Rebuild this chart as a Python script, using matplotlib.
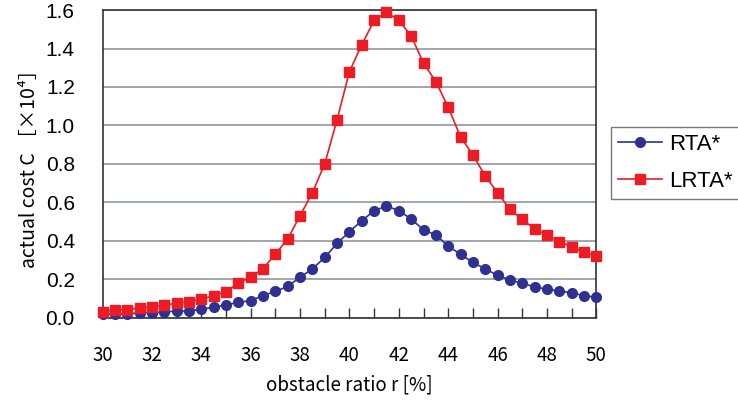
"""Actual cost vs obstacle ratio for RTA* and LRTA*."""

import matplotlib

matplotlib.use("Agg")
import matplotlib.pyplot as plt
import numpy as np
from matplotlib.ticker import FixedLocator, MultipleLocator

# obstacle ratio r [%], one point every 0.5
ratio = np.arange(30.0, 50.01, 0.5)

rta_cost = [
    0.020, 0.018, 0.018, 0.025, 0.025, 0.029, 0.034, 0.034, 0.043, 0.053,
    0.065, 0.079, 0.088, 0.114, 0.136, 0.162, 0.210, 0.253, 0.313, 0.386,
    0.447, 0.504, 0.555, 0.581, 0.556, 0.513, 0.456, 0.430, 0.372, 0.329,
    0.287, 0.253, 0.220, 0.195, 0.178, 0.160, 0.147, 0.138, 0.129, 0.114,
    0.105,
]
lrta_cost = [
    0.030, 0.040, 0.040, 0.050, 0.055, 0.065, 0.074, 0.082, 0.096, 0.114,
    0.135, 0.178, 0.210, 0.255, 0.330, 0.410, 0.530, 0.650, 0.800, 1.030,
    1.280, 1.420, 1.546, 1.590, 1.546, 1.466, 1.324, 1.228, 1.095, 0.940,
    0.846, 0.737, 0.650, 0.563, 0.511, 0.461, 0.430, 0.395, 0.369, 0.340,
    0.320,
]

x_labels = [30, 32, 34, 36, 38, 40, 42, 44, 46, 48, 50]
y_labels = [0.0, 0.2, 0.4, 0.6, 0.8, 1.0, 1.2, 1.4, 1.6]

BLUE = "#2e3192"
RED = "#ed1c24"
JP = ["Noto Sans CJK JP", "DejaVu Sans"]
ARIAL = ["Liberation Sans", "DejaVu Sans"]

fig = plt.figure(figsize=(7.38, 4.05), dpi=100)
ax = fig.add_axes((0.139, 0.216, 0.669, 0.759))

ax.plot(ratio, rta_cost, color=BLUE, lw=1.2, marker="o", ms=7,
        mec=BLUE, mfc=BLUE, label="RTA*", clip_on=False, zorder=3)
ax.plot(ratio, lrta_cost, color=RED, lw=1.2, marker="s", ms=6.8,
        mec=RED, mfc=RED, label="LRTA*", clip_on=False, zorder=3)

ax.set_xlim(30, 50)
ax.set_ylim(0, 1.6)

ax.xaxis.set_major_locator(FixedLocator(x_labels))
ax.xaxis.set_minor_locator(MultipleLocator(1))
ax.set_xticklabels([str(v) for v in x_labels], family=JP, fontsize=13.5)
ax.set_yticks(y_labels)
ax.set_yticklabels([f"{v:.1f}" for v in y_labels], family=ARIAL, fontsize=15)

ax.tick_params(axis="x", which="both", direction="in", length=7,
               width=1.0, color="#333333", pad=20)
ax.tick_params(axis="y", direction="in", length=0, pad=20)

ax.yaxis.grid(True, color="#9a9ea6", lw=1.3)
ax.set_axisbelow(True)
for side in ("left", "bottom", "right", "top"):
    ax.spines[side].set_color("#333333")
    ax.spines[side].set_linewidth(1.2)

ax.set_xlabel("obstacle ratio r [%]", family=JP, fontsize=13.5, labelpad=6)
ax.set_ylabel("actual cost C ［×10⁴］", family=JP, fontsize=14, labelpad=4)

leg = ax.legend(loc="upper left", bbox_to_anchor=(1.029, 0.62),
                prop={"family": ARIAL, "size": 16}, frameon=True,
                fancybox=False, edgecolor="#555555", handlelength=2.0,
                handletextpad=0.3, borderpad=0.32, labelspacing=0.7,
                borderaxespad=0)
leg.get_frame().set_linewidth(1.0)

fig.savefig("out.png", dpi=100)
